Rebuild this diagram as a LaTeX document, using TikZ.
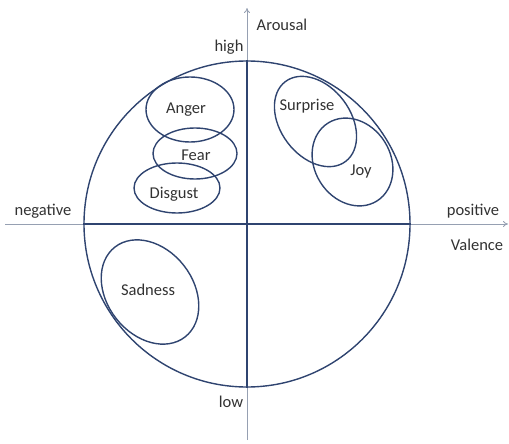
\documentclass[tikz,border=0pt]{standalone}
\usepackage{fontspec}
\setmainfont{Carlito}
\usetikzlibrary{arrows.meta}
\definecolor{lineblue}{RGB}{47,68,112}
\definecolor{axisgray}{RGB}{150,160,178}
\definecolor{txtgray}{RGB}{50,50,50}
\begin{document}
\begin{tikzpicture}[x=1pt,y=-1pt,
		emo/.style={draw=lineblue, line width=1.4pt},
		axis/.style={draw=axisgray, line width=0.8pt, -{To[length=5pt,width=6pt]}},
		lbl/.style={text=txtgray, font=\fontsize{16.5}{19}\selectfont, inner sep=1pt}]
		\useasboundingbox (0,0) rectangle (509,444);

		% axes
		\coordinate (vlow) at (247,440);
		\coordinate (vtop) at (247,8);
		\coordinate (hleft) at (5,224);
		\coordinate (hright) at (508,224);
		\draw[axis] (vlow) -- (vtop);
		\draw[axis] (hleft) -- (hright);

		% big circle
		\node[emo, circle, minimum size=326pt, inner sep=0pt] (wheel) at (247,224) {};
		\draw[emo] (wheel.west) -- (wheel.east);
		\draw[emo] (wheel.north) -- (wheel.south);

		% emotion regions
		\draw[emo] (190,109.5) ellipse [x radius=44pt, y radius=32.5pt];
		\draw[emo] (195,153.5) ellipse [x radius=42pt, y radius=25.5pt];
		\draw[emo] (177,188) ellipse [x radius=43pt, y radius=25pt];
		\draw[emo, shift={(315.5,121.5)}, rotate=-53] (0,0) ellipse [x radius=50pt, y radius=35pt];
		\draw[emo, shift={(352.5,162)}, rotate=-58] (0,0) ellipse [x radius=46pt, y radius=38pt];
		\draw[emo, shift={(150,292)}, rotate=38] (0,0) ellipse [x radius=43pt, y radius=57pt];

		\node[lbl] (anger) at (186,110) {Anger};
		\node[lbl] (fear) at (196,155) {Fear};
		\node[lbl] (disgust) at (174,194) {Disgust};
		\node[lbl] (surprise) at (307,106) {Surprise};
		\node[lbl] (joy) at (361,172) {Joy};
		\node[lbl] (sadness) at (148,290) {Sadness};

		% axis labels
		\node[lbl] (arousal) at (282,25) {Arousal};
		\node[lbl] (high) at (229,47) {high};
		\node[lbl] (low) at (231,402) {low};
		\node[lbl] (negative) at (43,211) {negative};
		\node[lbl] (positive) at (473,211) {positive};
		\node[lbl] (valence) at (477,245) {Valence};
	\end{tikzpicture}
\end{document}
